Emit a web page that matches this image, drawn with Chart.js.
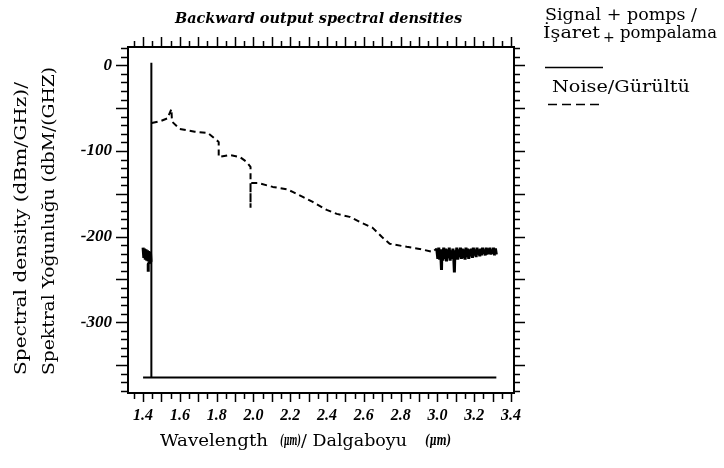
<!DOCTYPE html>
<html>
<head>
<meta charset="utf-8">
<script src="https://cdn.jsdelivr.net/npm/chart.js@4.4.1/dist/chart.umd.min.js"></script>
<style>
    html, body { margin: 0; padding: 0; background: #fff; }
</style>
</head>
<body>
<canvas id="graph_spectrum" width="724" height="468"></canvas>
<script>
// axis ticks
const x_ticks = [1.4, 1.6, 1.8, 2.0, 2.2, 2.4, 2.6, 2.8, 3.0, 3.2, 3.4];
const y_ticks = [0, -100, -200, -300];

// Signal + pomps (solid line)
const signal_x = [1.400, 1.445, 1.445, 1.445, 3.320];
const signal_y = [-364.5, -364.5, 3, -364.5, -364.5];

// Noise (dashed line), null = gap
const noise_x = [
    1.400, 1.404, 1.408, 1.412, 1.416, 1.420, 1.424, 1.428, 1.432, 1.436, 1.440, 1.443, 1.428, 1.428, 1.430,
    1.447, 1.496, 1.532, 1.554, 1.557, 1.599, 1.681, 1.752, 1.779, 1.811, 1.811, 1.871, 1.925, 1.963,
    1.984, 1.984, 1.984, 2.023, 2.105, 2.181, 2.213, 2.268, 2.322, 2.398, 2.453, 2.523,
    2.588, 2.648, 2.697, 2.740, 2.833, 2.903, 2.973,
    2.996, 3.002, 3.007, 3.012, 3.017, 3.022, 3.024, 3.029, 3.034, 3.039, 3.044, 3.049,
    3.054, 3.059, 3.064, 3.069, 3.074, 3.079, 3.084, 3.089, 3.092, 3.095, 3.100, 3.105,
    3.110, 3.115, 3.120, 3.125, 3.130, 3.135, 3.140, 3.145, 3.150, 3.155, 3.160, 3.165,
    3.170, 3.175, 3.180, 3.185, 3.190, 3.195, 3.200, 3.205, 3.210, 3.215, 3.220, 3.225,
    3.230, 3.235, 3.240, 3.245, 3.250, 3.255, 3.260, 3.265, 3.270, 3.275, 3.280, 3.285,
    3.290, 3.295, 3.300, 3.305, 3.310, 3.315, 3.320
];
const noise_y = [
    -213, -225, -214, -227, -215, -228, -216, -229, -217, -230, -218, -229, -232, -241, null,
    -67.4, -65, -62, -51, -65.7, -74.3, -77.5, -79, -83.7, -89.5, -107, -104.7, -107, -112.8,
    -118.7, -166.3, -137.3, -137.3, -142, -144.7, -147.8, -153.7, -159.5, -168.8, -173.5, -177,
    -184, -189.8, -200.3, -208.4, -212, -214.4, -217.9,
    -214, -226, -213, -227, -215, -239, -216, -228, -213, -226, -214, -229,
    -215, -225, -213, -228, -216, -226, -214, -227, -242, -216, -225, -213,
    -227, -215, -224, -213, -226, -214, -225, -215, -227, -213, -224, -214,
    -226, -215, -223, -214, -225, -213, -222, -215, -224, -213, -221, -215,
    -223, -214, -222, -213, -220, -215, -222, -213, -221, -214, -220, -213,
    -221, -215, -220, -213, -222, -214, -221
];

const graph_spectrum = document.getElementById('graph_spectrum').getContext('2d');

// draws txt starting at x and squeezes/stretches it to width w
function fitText(ctx, txt, x, y, w) {
    const m = ctx.measureText(txt).width;
    ctx.save();
    ctx.translate(x, y);
    ctx.scale(w / m, 1);
    ctx.fillText(txt, 0, 0);
    ctx.restore();
}

// frame, outside ticks and all the text around the plot
const decorations = {
    id: 'decorations',
    afterDraw(chart) {
        const ctx = chart.ctx;
        const { left, right, top, bottom } = chart.chartArea;
        const sx = chart.scales.x;
        const sy = chart.scales.y;
        ctx.save();
        ctx.strokeStyle = '#000';
        ctx.fillStyle = '#000';

        ctx.lineWidth = 2;
        ctx.strokeRect(left, top, right - left, bottom - top);

        ctx.lineWidth = 1.5;
        ctx.beginPath();
        for (let k = 27; k <= 68; k++) {
            const px = Math.round(sx.getPixelForValue(k * 0.05)) + 0.5;
            const tall = k % 2 === 0;
            ctx.moveTo(px, top);
            ctx.lineTo(px, top - (tall ? 10 : 6));
            ctx.moveTo(px, bottom);
            ctx.lineTo(px, bottom + (tall ? 9 : 6));
        }
        for (let k = 2; k >= -38; k--) {
            const py = Math.round(sy.getPixelForValue(k * 10)) + 0.5;
            const long = k % 5 === 0;
            ctx.moveTo(left, py);
            ctx.lineTo(left - (long ? 12 : 7), py);
            ctx.moveTo(right, py);
            ctx.lineTo(right + (long ? 11 : 6), py);
        }
        ctx.stroke();

        // title
        ctx.font = 'bold italic 14px "DejaVu Serif"';
        ctx.textAlign = 'left';
        ctx.textBaseline = 'middle';
        fitText(ctx, 'Backward output spectral densities', 175, 19, 287);

        // y axis title (two lines, rotated)
        ctx.font = '16px "DejaVu Serif"';
        [[22, 'Spectral density (dBm/GHz)/', 293], [50, 'Spektral Yoğunluğu (dbM/(GHZ)', 308]].forEach(([xx, txt, len]) => {
            ctx.save();
            ctx.translate(xx, 375);
            ctx.rotate(-Math.PI / 2);
            fitText(ctx, txt, 0, 0, len);
            ctx.restore();
        });

        // x axis title
        ctx.textBaseline = 'alphabetic';
        ctx.font = '17px "DejaVu Serif"';
        fitText(ctx, 'Wavelength', 160, 446, 108);
        fitText(ctx, '/ Dalgaboyu', 301, 446, 106);
        ctx.font = 'bold italic 14px "DejaVu Serif"';
        fitText(ctx, '(μm)', 280, 445, 21);
        fitText(ctx, '(μm)', 425, 445, 26);

        // legend
        ctx.font = '17px "DejaVu Serif"';
        fitText(ctx, 'Signal + pomps /', 545, 20, 152);
        fitText(ctx, 'İşaret', 543, 38, 57);
        fitText(ctx, 'pompalama', 620, 38, 97);
        fitText(ctx, 'Noise/Gürültü', 552, 92, 138);
        ctx.font = '14px "DejaVu Serif"';
        ctx.fillText('+', 603, 42);

        ctx.lineWidth = 1.5;
        ctx.beginPath();
        ctx.moveTo(545, 67.5);
        ctx.lineTo(603, 67.5);
        ctx.stroke();
        ctx.setLineDash([9, 5]);
        ctx.beginPath();
        ctx.moveTo(548, 104.5);
        ctx.lineTo(600, 104.5);
        ctx.stroke();
        ctx.restore();
    }
};

// the noisy bits of the noise curve are drawn solid and heavier so they fill in black
const isNoisy = (c) => c.p0.parsed.x < 1.445 || c.p0.parsed.x >= 2.99;

const spectrum = new Chart(graph_spectrum, {
    type: 'line',
    data: {
        datasets: [{
            label: 'Signal + pomps / İşaret + pompalama',
            data: signal_x.map((x, i) => ({ x: x, y: signal_y[i] })),
            borderColor: '#000',
            borderWidth: 2,
            pointRadius: 0,
            tension: 0
        }, {
            label: 'Noise/Gürültü',
            data: noise_x.map((x, i) => ({ x: x, y: noise_y[i] })),
            borderColor: '#000',
            borderWidth: 2,
            borderDash: [6, 4],
            borderJoinStyle: 'bevel',
            pointRadius: 0,
            tension: 0,
            spanGaps: false,
            segment: {
                borderDash: (c) => isNoisy(c) ? [] : undefined,
                borderWidth: (c) => isNoisy(c) ? 3 : undefined
            }
        }]
    },
    options: {
        responsive: false,
        animation: false,
        layout: { padding: { top: 47, right: 210, left: 0, bottom: 0 } },
        plugins: {
            legend: { display: false },
            title: { display: false },
            tooltip: { enabled: false }
        },
        scales: {
            x: {
                type: 'linear',
                min: 1.318,
                max: 3.416,
                afterFit: (scale) => { scale.height = 75; },
                afterBuildTicks: (scale) => { scale.ticks = x_ticks.map(v => ({ value: v })); },
                grid: { display: false, drawTicks: false },
                border: { display: false },
                ticks: {
                    padding: 13,
                    color: '#000',
                    maxRotation: 0,
                    font: { family: '"Liberation Serif"', size: 16, weight: 'bold', style: 'italic' },
                    callback: (value) => value.toFixed(1)
                }
            },
            y: {
                type: 'linear',
                min: -382.7,
                max: 21.4,
                afterFit: (scale) => { scale.width = 128; },
                afterBuildTicks: (scale) => { scale.ticks = y_ticks.map(v => ({ value: v })); },
                grid: { display: false, drawTicks: false },
                border: { display: false },
                ticks: {
                    padding: 16,
                    color: '#000',
                    font: { family: '"Liberation Serif"', size: 17, weight: 'bold', style: 'italic' },
                    callback: (value) => String(value)
                }
            }
        }
    },
    plugins: [decorations]
});
</script>
</body>
</html>
